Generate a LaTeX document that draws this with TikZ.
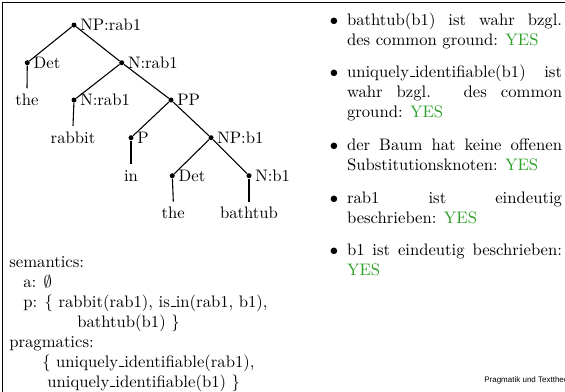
\documentclass[tikz,border=0pt]{standalone}
\usepackage{fontspec}
\newfontfamily\footfont{Liberation Sans}
\definecolor{yesgreen}{RGB}{45,160,40}
\newcommand{\yes}{\textcolor{yesgreen}{YES}}
\newcommand{\us}{\leavevmode\kern.06em\vbox{\hrule width.3em}}
\begin{document}
\begin{tikzpicture}[x=0.6pt,y=-0.6pt,
  dot/.style={circle,fill,inner sep=0pt,minimum size=3pt},
  lab/.style={anchor=west,inner sep=0pt},
  leaf/.style={inner sep=3.33pt},
  edge/.style={line width=0.65pt},
  txt/.style={anchor=base west,inner sep=0pt},
  itembox/.style={anchor=base west,inner sep=0pt,text width=129pt,align=justify},
  bul/.style={anchor=base,inner sep=0pt}]
\useasboundingbox (0,0) rectangle (565,391);
\clip (0,0) rectangle (565,391);
% frame
\draw[line width=0.6pt] (2.5,400) -- (2.5,2.5) -- (580,2.5);
% tree
\node[dot] (np) at (74,25) {};
\node[lab] (npl) at (80,25) {NP:rab1};
\node[dot] (det1) at (27.3,62.7) {};
\node[lab] (det1l) at (33.3,62.7) {Det};
\node[leaf] (the1) at (27,100) {the};
\node[dot] (n1) at (121.7,62.7) {};
\node[lab] (n1l) at (127.7,62.7) {N:rab1};
\node[dot] (n2) at (74,100) {};
\node[lab] (n2l) at (80,100) {N:rab1};
\node[leaf] (rabbit) at (73,137.7) {rabbit};
\node[dot] (pp) at (171,100) {};
\node[lab] (ppl) at (177,100) {PP};
\node[dot] (p) at (131,137.7) {};
\node[lab] (pl) at (137,137.7) {P};
\node[leaf] (in) at (131,175.7) {in};
\node[dot] (np2) at (211,137.7) {};
\node[lab] (np2l) at (217,137.7) {NP:b1};
\node[dot] (det2) at (172.3,175.7) {};
\node[lab] (det2l) at (178.3,175.7) {Det};
\node[leaf] (the2) at (173.3,213.3) {the};
\node[dot] (nb) at (249,175.7) {};
\node[lab] (nbl) at (255,175.7) {N:b1};
\node[leaf] (bathtub) at (249,213.3) {bathtub};
\draw[edge] (np) -- (det1);
\draw[edge] (np) -- (n1);
\draw[edge] (det1) -- (the1.north);
\draw[edge] (n1) -- (n2);
\draw[edge] (n1) -- (pp);
\draw[edge] (n2) -- (rabbit.north);
\draw[edge] (pp) -- (p);
\draw[edge] (pp) -- (np2);
\draw[edge] (p) -- (in.north);
\draw[edge] (np2) -- (det2);
\draw[edge] (np2) -- (nb);
\draw[edge] (det2) -- (the2.north);
\draw[edge] (nb) -- (bathtub.north);
% semantics
\node[txt] (sem) at (9,267) {semantics:};
\node[txt] (sa) at (23,287) {a: $\emptyset$};
\node[txt] (sp) at (23,307) {p: \{ rabbit(rab1), is\us in(rab1, b1),};
\node[txt] (sp2) at (77,327) {bathtub(b1) \}};
\node[txt] (prag) at (9,347) {pragmatics:};
\node[txt] (pr1) at (42,367) {\{ uniquely\us identifiable(rab1),};
\node[txt] (pr2) at (47,387) {uniquely\us identifiable(b1) \}};
% items
\node[bul] (bu1) at (334,25) {$\bullet$};
\node[itembox] (it1) at (346.7,25) {bathtub(b1) ist wahr bzgl.\linebreak des common ground: \yes};
\node[bul] (bu2) at (334,77) {$\bullet$};
\node[itembox] (it2) at (346.7,77) {uniquely\us identifiable(b1) ist\linebreak wahr bzgl. des common\linebreak ground: \yes};
\node[bul] (bu3) at (334,150) {$\bullet$};
\node[itembox] (it3) at (346.7,150) {der Baum hat keine offenen\linebreak Substitutionsknoten: \yes};
\node[bul] (bu4) at (334,203) {$\bullet$};
\node[itembox] (it4) at (346.7,203) {rab1 ist eindeutig\linebreak beschrieben: \yes};
\node[bul] (bu5) at (334,255) {$\bullet$};
\node[itembox] (it5) at (346.7,255) {b1 ist eindeutig beschrieben:\linebreak \yes};
% footer
\node[txt,font=\footfont\fontsize{4.8}{5.5}\selectfont] (foot) at (484,382) {Pragmatik und Texttheorie};
\end{tikzpicture}
\end{document}
